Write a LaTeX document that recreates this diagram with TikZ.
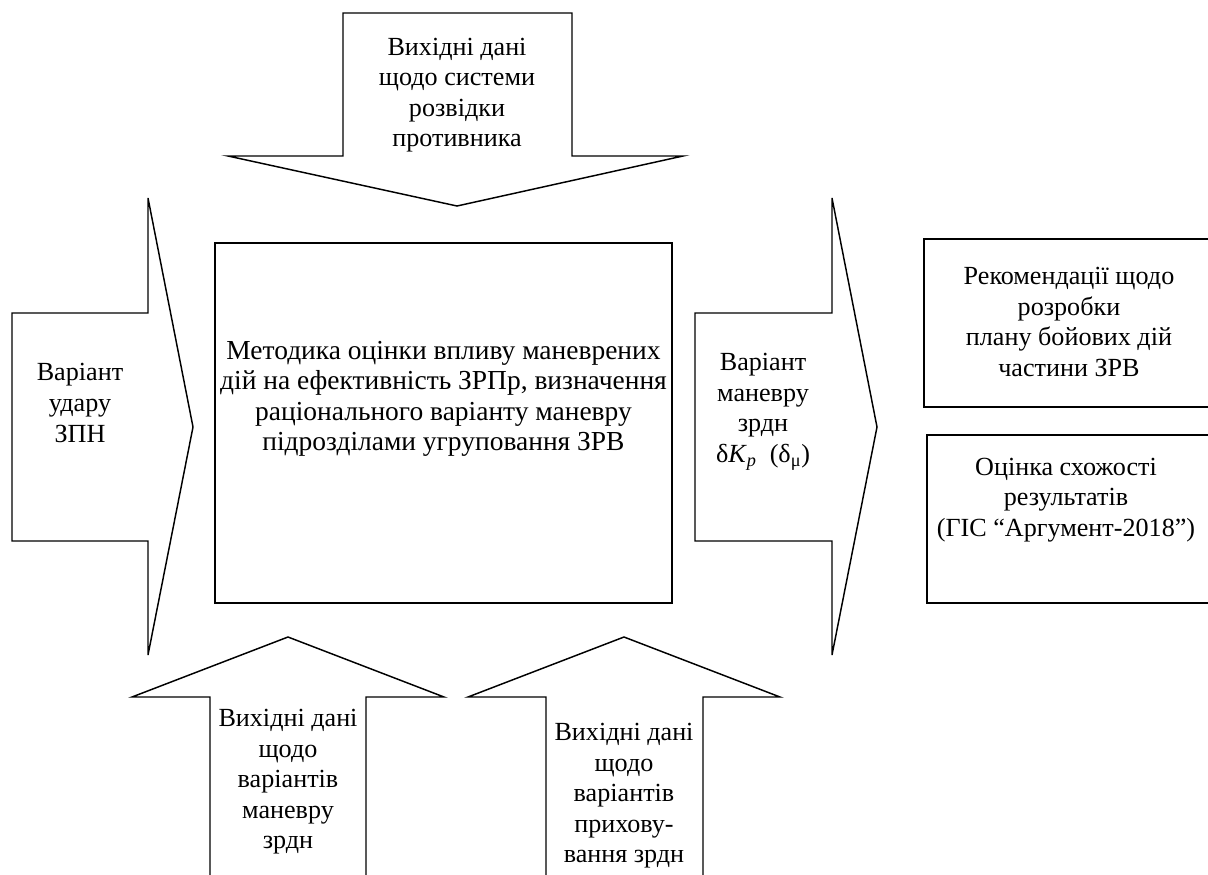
\documentclass[tikz,border=0pt]{standalone}
\usepackage{fontspec}
\setmainfont{Liberation Serif}
\begin{document}
\begin{tikzpicture}[x=0.75pt,y=-0.75pt,
  shp/.style={draw=black,line width=1.1pt,line join=miter},
  lbl/.style={align=center,inner sep=0pt,font=\fontsize{19.6pt}{22.9pt}\selectfont},
  mainlbl/.style={lbl,font=\fontsize{20.6pt}{22.9pt}\selectfont}]
\useasboundingbox (0,0) rectangle (1208,875);
\clip (0,0) rectangle (1208,875);
% central box
\draw[shp] (215,243) rectangle (672,603);
\node[mainlbl] (main) at (443.5,399) {Методика оцінки впливу маневрених\\дій на ефективність ЗРПр, визначення\\раціонального варіанту маневру\\підрозділами угруповання ЗРВ};
% top arrow
\draw[shp] (343,13) -- (572,13) -- (572,156) -- (683,156) -- (457,206) -- (228,156) -- (343,156) -- cycle;
\node[lbl] (top) at (457,95) {Вихідні дані\\щодо системи\\розвідки\\противника};
% left arrow
\draw[shp] (12,313) -- (148,313) -- (148,198) -- (193,427) -- (148,655) -- (148,541) -- (12,541) -- cycle;
\node[lbl] (left) at (80,403) {Варіант\\удару\\ЗПН};
% right arrow
\draw[shp] (695,313) -- (832,313) -- (832,198) -- (877,427) -- (832,655) -- (832,541) -- (695,541) -- cycle;
\node[lbl] (right) at (763,412) {Варіант\\маневру\\зрдн\\δ\textit{K}\textsubscript{\textit{p}}~~(δ\textsubscript{μ})};
% bottom arrow 1
\draw[shp] (210,880) -- (210,697) -- (132,697) -- (288,637) -- (444,697) -- (366,697) -- (366,880);
\node[lbl] (b1) at (288,782) {Вихідні дані\\щодо\\варіантів\\маневру\\зрдн};
% bottom arrow 2
\draw[shp] (546,880) -- (546,697) -- (468,697) -- (624,637) -- (780,697) -- (703,697) -- (703,880);
\node[lbl] (b2) at (624,796) {Вихідні дані\\щодо\\варіантів\\прихову-\\вання зрдн};
% right boxes
\draw[shp] (924,239) rectangle (1215,407);
\node[lbl] (r1) at (1069,322) {Рекомендації щодо\\розробки\\плану бойових дій\\частини ЗРВ};
\draw[shp] (927,435) rectangle (1215,603);
\node[lbl] (r2) at (1066,500) {Оцінка схожості\\результатів\\(ГІС “Аргумент-2018”)};
\end{tikzpicture}
\end{document}
